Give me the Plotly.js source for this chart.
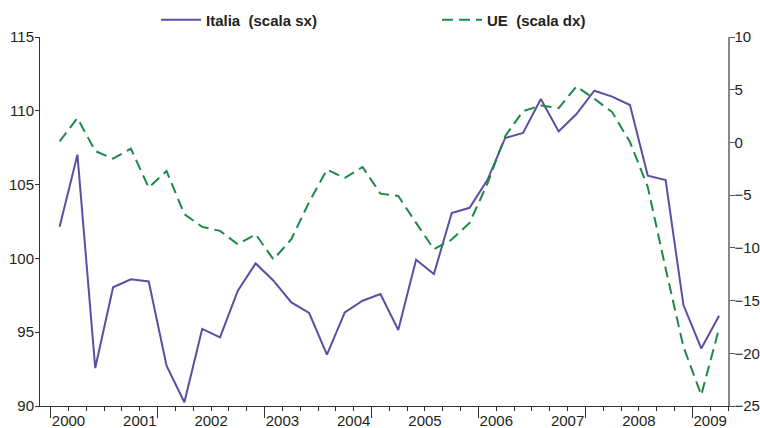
<!DOCTYPE html>
<html>
<head>
<meta charset="utf-8">
<script src="https://cdn.plot.ly/plotly-3.0.1.min.js"></script>
<style>html,body{margin:0;padding:0;background:#fff;}#chart{width:760px;height:428px;}</style>
</head>
<body>
<div id="chart"></div>
<script>
// Quarterly data, 2000Q1 .. 2009Q2 (index 0..37)
const quarterIndex = Array.from({length: 38}, (_, i) => i);
const italia = [102.15, 107.03, 92.57, 98.04, 98.58, 98.44, 92.73, 90.25, 95.22, 94.65,
                97.81, 99.66, 98.49, 97.02, 96.30, 93.48, 96.34, 97.13, 97.59, 95.15,
                99.91, 98.94, 103.08, 103.43, 105.31, 108.16, 108.5, 110.8, 108.6, 109.78,
                111.36, 110.96, 110.39, 105.6, 105.31, 96.84, 93.9, 96.12];
const ue = [0.1, 2.31, -0.82, -1.54, -0.59, -4.29, -2.71, -6.81, -8.01, -8.39,
            -9.66, -8.71, -11.1, -9.18, -5.65, -2.58, -3.37, -2.33, -4.86, -5.08,
            -7.63, -10.13, -9.21, -7.63, -3.91, 0.6, 2.97, 3.51, 3.26, 5.31,
            4.14, 2.88, 0.04, -4.23, -11.96, -19.38, -23.96, -17.64];
const years = ['2000','2001','2002','2003','2004','2005','2006','2007','2008','2009'];
const yearLabelPos = [0.5, 4.5, 8.5, 12.5, 16.5, 20.5, 24.5, 28.5, 32.5, 36.5];
const quarterBounds = Array.from({length: 39}, (_, i) => i - 0.5);
const longTicks = [-0.5, 5.5, 11.5, 17.5, 23.5, 29.5, 35.5];
const xRange = [-1.1, 37.5];

const font = 'Liberation Sans, Arial, sans-serif';
const textColor = '#231f20';

const traces = [
  {x: quarterIndex, y: italia, name: '<b>Italia\u00a0 (scala sx)</b>', type: 'scatter', mode: 'lines',
   line: {color: '#5a4fa3', width: 2}, xaxis: 'x', yaxis: 'y'},
  {x: quarterIndex, y: ue, name: '<b>UE\u00a0 (scala dx)</b>', type: 'scatter', mode: 'lines',
   line: {color: '#1b8a47', width: 2, dash: '11px,6px'}, xaxis: 'x2', yaxis: 'y2'}
];

const layout = {
  width: 760, height: 428,
  margin: {l: 40, r: 32, t: 37, b: 22, autoexpand: false},
  paper_bgcolor: '#fff', plot_bgcolor: '#fff',
  font: {family: font, size: 15, color: textColor},
  showlegend: true,
  legend: {orientation: 'h', xref: 'container', x: 156 / 760, xanchor: 'left',
           yref: 'container', y: 1 - 20 / 428, yanchor: 'middle',
           itemwidth: 40,
           font: {family: font, size: 15, color: textColor},
           entrywidth: 226, entrywidthmode: 'pixels', bgcolor: 'rgba(0,0,0,0)'},
  xaxis: {range: xRange, showgrid: false, zeroline: false, showline: true, linecolor: '#333', linewidth: 1,
          tickmode: 'array', tickvals: yearLabelPos, ticktext: years, ticks: 'outside', ticklen: 4,
          ticklabelstandoff: -3,
          tickcolor: '#333', tickfont: {family: font, size: 15, color: textColor},
          minor: {tickmode: 'array', tickvals: quarterBounds, ticks: 'outside', ticklen: 4, tickcolor: '#333', tickwidth: 1, showgrid: false}},
  xaxis2: {range: xRange, overlaying: 'x', anchor: 'y', side: 'bottom', showgrid: false, zeroline: false, showline: false,
           tickmode: 'array', tickvals: longTicks, ticks: 'outside', ticklen: 11, tickcolor: '#333',
           showticklabels: false},
  yaxis: {range: [90, 115], tickmode: 'array', tickvals: [90, 95, 100, 105, 110, 115],
          showgrid: false, zeroline: false, showline: true, linecolor: '#333', linewidth: 1,
          ticks: 'outside', ticklen: 4, tickcolor: '#333', ticklabelstandoff: -2,
          tickfont: {family: font, size: 15, color: textColor}},
  yaxis2: {range: [-25, 10], overlaying: 'y', side: 'right', anchor: 'x2', tickmode: 'array',
           tickvals: [-25, -20, -15, -10, -5, 0, 5, 10],
           showgrid: false, zeroline: false, showline: true, linecolor: '#888', linewidth: 1.5,
           ticks: 'outside', ticklen: 5, tickcolor: '#555', ticklabelstandoff: -3,
           tickfont: {family: font, size: 15, color: textColor}}
};

Plotly.newPlot('chart', traces, layout, {displayModeBar: false, staticPlot: true});
</script>
</body>
</html>
